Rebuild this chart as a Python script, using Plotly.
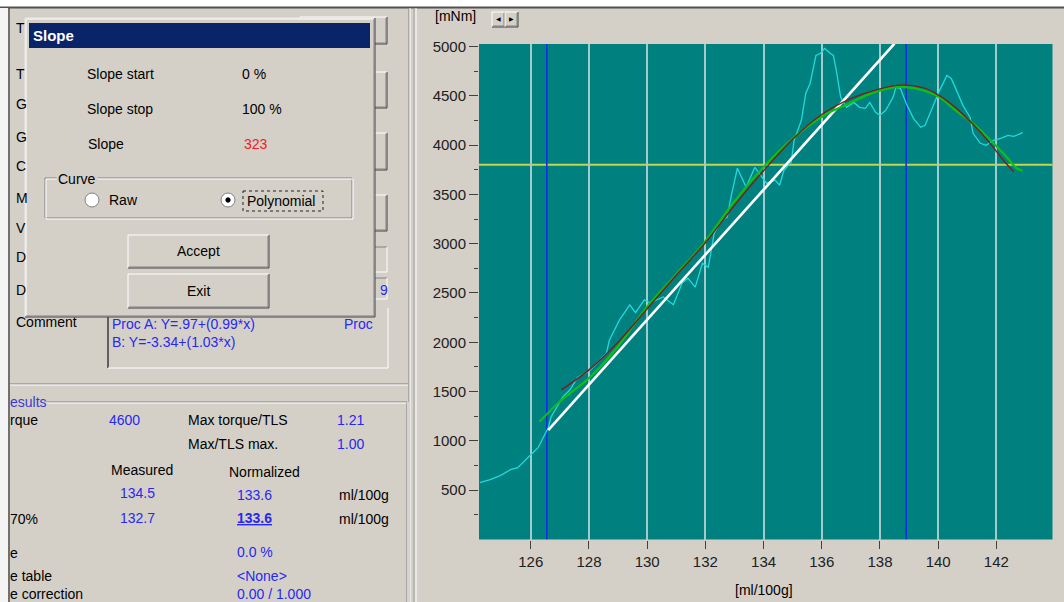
import plotly.graph_objects as go

# ---------------- data ----------------
raw_x = [124.25, 124.6, 124.95, 125.3, 125.55, 125.75, 126.0, 126.25, 126.45, 126.6, 126.7, 126.9,
         127.1, 127.35, 127.6, 128.05, 128.6, 128.7, 129.05, 129.4, 129.6, 129.9, 130.1, 130.55,
         130.9, 131.2, 131.4, 131.65, 131.9, 132.1, 132.3, 132.55, 132.75, 132.9, 133.1, 133.4,
         133.7, 134.1, 134.4, 134.55, 134.7, 134.95, 135.05, 135.3, 135.45, 135.6, 135.8, 135.95,
         136.1, 136.3, 136.4, 136.5, 136.65, 136.85, 137.1, 137.3, 137.5, 137.65, 137.85, 138.0,
         138.2, 138.45, 138.55, 138.7, 138.9, 139.15, 139.4, 139.55, 139.8, 140.05, 140.3, 140.45,
         140.6, 140.85, 141.1, 141.2, 141.45, 141.65, 141.9, 142.15, 142.4, 142.6, 142.85, 142.9]
raw_y = [577, 607, 648, 708, 729, 790, 860, 931, 1043, 1134, 1245, 1346,
         1447, 1518, 1640, 1720, 1890, 2020, 2227, 2380, 2300, 2430, 2400, 2460,
         2380, 2600, 2650, 2560, 2800, 2760, 3100, 3240, 3270, 3500, 3765, 3573,
         3775, 3613, 3644, 3593, 3745, 3826, 4048, 4251, 4524, 4625, 4909, 4929,
         4980, 4929, 4909, 4757, 4484, 4383, 4433, 4383, 4372, 4433, 4332, 4302,
         4352, 4484, 4585, 4575, 4423, 4271, 4180, 4200, 4383, 4555, 4707, 4676,
         4575, 4403, 4281, 4119, 4018, 3998, 4048, 4069, 4099, 4089, 4119, 4130]

green_x = [126.3, 127.0, 128.05, 129.0, 130.0, 131.0, 131.95, 132.9, 133.9, 135.05, 136.2,
           136.8, 137.7, 138.45, 138.8, 139.5, 140.05, 140.6, 141.2, 141.7, 142.3, 142.7, 142.9]
green_y = [1194, 1400, 1650, 1960, 2360, 2690, 3006, 3390, 3745, 4079, 4322,
           4403, 4524, 4585, 4590, 4555, 4484, 4352, 4220, 4079, 3897, 3765, 3740]

brown_x = [127.05, 128.0, 129.0, 130.0, 131.0, 132.0, 133.0, 134.0, 135.0, 136.0, 137.0,
           138.0, 138.8, 139.5, 140.0, 140.6, 141.2, 141.7, 142.3, 142.6]
brown_y = [1518, 1720, 2000, 2340, 2680, 3010, 3390, 3740, 4060, 4310, 4470,
           4570, 4610, 4580, 4510, 4380, 4210, 4048, 3826, 3730]

slope_x = [126.6, 138.5]
slope_y = [1110, 5030]

marker_x = [126.55, 138.9]
level_y = 3800

x_ticks = [126, 128, 130, 132, 134, 136, 138, 140, 142]
y_ticks = [500, 1000, 1500, 2000, 2500, 3000, 3500, 4000, 4500, 5000]
x_range = [124.22, 143.93]
y_range = [0, 5025]

# ---------------- helpers ----------------
W, H = 1064, 602
GRAY = "#D4D0C8"
FONT = "Liberation Sans"
BLUE_T = "#2828F0"

def px(x):
    return x / W

def py(y):
    return 1 - y / H

shapes = []
annots = []

def rect(x0, y0, x1, y1, fill=None, line=None, lw=1, dash=None):
    d = dict(type="rect", xref="paper", yref="paper",
             x0=px(x0), x1=px(x1), y0=py(y0), y1=py(y1),
             line=dict(width=lw if line else 0, color=line or "rgba(0,0,0,0)"))
    if dash:
        d["line"]["dash"] = dash
    if fill:
        d["fillcolor"] = fill
    shapes.append(d)

def seg(x0, y0, x1, y1, color, lw=1):
    shapes.append(dict(type="line", xref="paper", yref="paper",
                       x0=px(x0), x1=px(x1), y0=py(y0), y1=py(y1),
                       line=dict(color=color, width=lw)))

def circ(cx, cy, r, fill, line):
    shapes.append(dict(type="circle", xref="paper", yref="paper",
                       x0=px(cx - r), x1=px(cx + r), y0=py(cy + r), y1=py(cy - r),
                       fillcolor=fill, line=dict(color=line, width=1)))

def txt(x, y, s, color="#000000", size=14, anchor="left", bold=False, bg=None):
    a = dict(x=px(x), y=py(y), xref="paper", yref="paper", text=("<b>%s</b>" % s) if bold else s,
             showarrow=False, xanchor=anchor, yanchor="middle",
             font=dict(family=FONT, size=size, color=color))
    if bg:
        a["bgcolor"] = bg
    annots.append(a)

def button(x0, y0, x1, y1, raised=True):
    rect(x0, y0, x1, y1, fill=GRAY)
    if raised:
        seg(x0, y0, x1, y0, "#FFFFFF")
        seg(x0, y0, x0, y1, "#FFFFFF")
        seg(x0, y1, x1, y1, "#404040")
        seg(x1, y0, x1, y1, "#404040")
        seg(x0 + 1, y1 - 1, x1 - 1, y1 - 1, "#808080")
        seg(x1 - 1, y0 + 1, x1 - 1, y1 - 1, "#808080")
    else:
        seg(x0, y0, x1, y0, "#808080")
        seg(x0, y0, x0, y1, "#808080")
        seg(x0, y1, x1, y1, "#FFFFFF")
        seg(x1, y0, x1, y1, "#FFFFFF")

# ---------------- window background ----------------
rect(0, 0, W, 7, fill="#FFFFFF")
seg(0, 7.5, W, 7.5, "#505050", 2)
rect(0, 8, 8, H, fill="#F4F4F4")
seg(9, 8, 9, H, "#505050", 1.5)

# separators between left panel and chart
seg(409, 8, 409, H, "#808080")
seg(410, 8, 410, H, "#FFFFFF")
seg(414, 8, 414, H, "#A0A0A0")
seg(416, 8, 416, H, "#FFFFFF")

# left panel background controls (partly hidden by dialog)
for (y0, y1) in [(17, 44), (72, 108), (133, 170), (195, 231)]:
    button(300, y0, 387, y1)
button(300, 247, 387, 272, raised=False)
button(300, 278, 387, 299, raised=False)
txt(378, 290, "9", BLUE_T, 14)
# comment box
seg(108, 308, 108, 368, "#606060", 2)
seg(108, 368, 388, 368, "#FFFFFF")
seg(388, 308, 388, 368, "#FFFFFF")
# groove
seg(10, 384, 408, 384, "#808080")
seg(10, 385, 408, 385, "#FFFFFF")
# results group box
seg(44, 402, 407, 402, "#808080")
seg(44, 403, 407, 403, "#FFFFFF")
seg(407, 402, 407, H, "#808080")
seg(408, 402, 408, H, "#FFFFFF")

for (yy, s) in [(28, "T"), (74, "T"), (104, "G"), (137, "G"), (166, "C"), (198, "M"),
                (228, "V"), (257, "D"), (290, "D")]:
    txt(14, yy, s, "#000000", 14)
txt(14, 322, "Comment", "#000000", 14)
txt(110, 324, "Proc A: Y=.97+(0.99*x)", BLUE_T, 14)
txt(342, 324, "Proc", BLUE_T, 14)
txt(110, 342, "B: Y=-3.34+(1.03*x)", BLUE_T, 14)

# results
txt(8, 402, "esults", "#3A3AD0", 14)
txt(8, 420, "rque", "#000000", 14)
txt(107, 420, "4600", BLUE_T, 14)
txt(186, 420, "Max torque/TLS", "#000000", 14)
txt(335, 420, "1.21", BLUE_T, 14)
txt(186, 444, "Max/TLS max.", "#000000", 14)
txt(335, 444, "1.00", BLUE_T, 14)
txt(109, 470, "Measured", "#000000", 14)
txt(227, 472, "Normalized", "#000000", 14)
txt(118, 493, "134.5", BLUE_T, 14)
txt(235, 495, "133.6", BLUE_T, 14)
txt(337, 495, "ml/100g", "#000000", 14)
txt(8, 519, "70%", "#000000", 14)
txt(118, 518, "132.7", BLUE_T, 14)
txt(235, 518, "<u>133.6</u>", BLUE_T, 14, bold=True)
txt(337, 519, "ml/100g", "#000000", 14)
txt(8, 553, "e", "#000000", 14)
txt(235, 552, "0.0 %", BLUE_T, 14)
txt(8, 576, "e table", "#000000", 14)
txt(235, 576, "&lt;None&gt;", BLUE_T, 14)
txt(8, 594, "e correction", "#000000", 14)
txt(235, 594, "0.00 / 1.000", BLUE_T, 14)

# ---------------- Slope dialog ----------------
rect(25, 18, 375, 317, fill=GRAY)
seg(25, 18, 375, 18, "#E8E8E8")
seg(25, 18, 25, 317, "#E8E8E8")
seg(26, 19, 374, 19, "#FFFFFF")
seg(26, 19, 26, 316, "#FFFFFF")
seg(25, 317, 375, 317, "#404040")
seg(375, 18, 375, 317, "#404040")
seg(26, 316, 374, 316, "#808080")
seg(374, 19, 374, 316, "#808080")
rect(29, 23, 370, 48, fill="#0A246A")
txt(31, 36, "Slope", "#FFFFFF", 15, bold=True)

txt(85, 74, "Slope start", "#000000", 14)
txt(240, 74, "0 %", "#000000", 14)
txt(85, 109, "Slope stop", "#000000", 14)
txt(240, 109, "100 %", "#000000", 14)
txt(86, 144, "Slope", "#000000", 14)
txt(242, 144, "323", "#F02020", 14)

# curve group box
rect(45, 178, 352, 218, line="#808080")
rect(46, 179, 353, 219, line="#FFFFFF")
txt(56, 179, "Curve", "#000000", 14, bg=GRAY)
circ(92, 200, 7, "#FFFFFF", "#808080")
txt(107, 200, "Raw", "#000000", 14)
circ(228, 200, 7, "#FFFFFF", "#808080")
circ(228, 200, 2.2, "#000000", "#000000")
rect(243, 191, 323, 211, line="#202020", dash="dot")
txt(245, 201, "Polynomial", "#000000", 14)

button(128, 235, 269, 268)
txt(198, 251, "Accept", "#000000", 14, anchor="center")
button(128, 274, 269, 308)
txt(198, 291, "Exit", "#000000", 14, anchor="center")

# ---------------- chart header ----------------
txt(433, 16, "[mNm]", "#000000", 14)
button(492, 12, 505, 27)
button(505, 12, 518, 27)
txt(498.5, 19.5, "◀", "#000000", 6, anchor="center")
txt(511.5, 19.5, "▶", "#000000", 6, anchor="center")
txt(764, 590, "[ml/100g]", "#000000", 14, anchor="center")

# ---------------- chart ----------------
fig = go.Figure()
shapes.append(dict(type="line", xref="x domain", yref="y", x0=0, x1=1, y0=level_y, y1=level_y,
                   line=dict(color="#C6D64A", width=2), layer="below"))

for mx in marker_x:
    fig.add_trace(go.Scatter(x=[mx, mx], y=y_range, mode="lines",
                             line=dict(color="#1030E0", width=1.6), hoverinfo="skip"))
fig.add_trace(go.Scatter(x=raw_x, y=raw_y, mode="lines",
                         line=dict(color="#22DADA", width=1.3), hoverinfo="skip"))
fig.add_trace(go.Scatter(x=slope_x, y=slope_y, mode="lines",
                         line=dict(color="#FFFFFF", width=2.6), hoverinfo="skip"))
fig.add_trace(go.Scatter(x=green_x, y=green_y, mode="lines", line_shape="spline",
                         line=dict(color="#10C010", width=2.2), hoverinfo="skip"))
fig.add_trace(go.Scatter(x=brown_x, y=brown_y, mode="lines", line_shape="spline",
                         line=dict(color="#7A1E1E", width=1.4), hoverinfo="skip"))

fig.update_layout(
    width=W, height=H,
    margin=dict(l=0, r=0, t=0, b=0),
    paper_bgcolor=GRAY,
    plot_bgcolor="#018080",
    showlegend=False,
    shapes=shapes,
    annotations=annots,
    font=dict(family=FONT, size=14, color="#202020"),
)
fig.update_xaxes(
    domain=[479 / W, 1052.5 / W], range=x_range, tickvals=x_ticks,
    ticks="outside", ticklen=8, tickcolor="#404040", tickwidth=1,
    showgrid=True, gridcolor="#A3CBCB", gridwidth=2, zeroline=False,
    showline=False, automargin=False, tickfont=dict(size=15, color="#202020"),
)
fig.update_yaxes(
    domain=[1 - 539.5 / H, 1 - 44 / H], range=y_range, tickvals=y_ticks,
    ticks="outside", ticklen=9, tickcolor="#404040", tickwidth=1,
    minor=dict(ticks="outside", ticklen=4, tick0=250, dtick=500, tickcolor="#404040", showgrid=False),
    showgrid=False, zeroline=False, showline=False, automargin=False,
    tickfont=dict(size=15, color="#202020"),
)

fig.write_html("out.html")
